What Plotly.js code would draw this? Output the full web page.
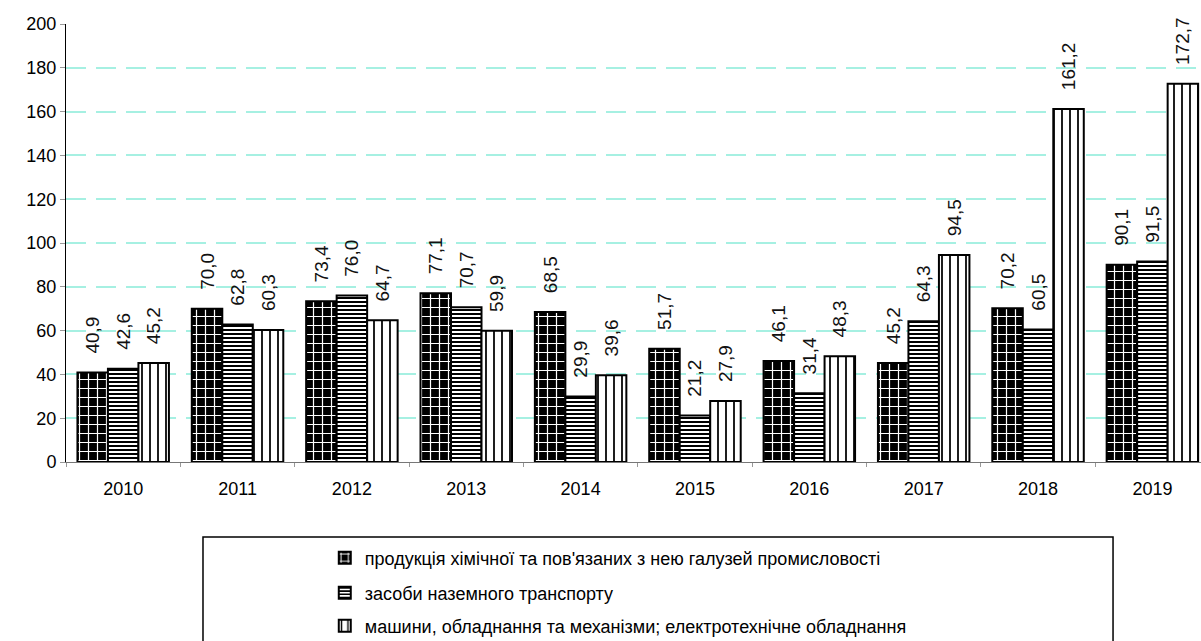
<!DOCTYPE html>
<html>
<head>
<meta charset="utf-8">
<script src="https://cdn.plot.ly/plotly-3.0.1.min.js"></script>
<style>html,body{margin:0;padding:0;overflow:hidden;background:#fff;}</style>
</head>
<body>
<div id="chart" style="width:1201px;height:641px;"></div>
<script>
const years = ["2010","2011","2012","2013","2014","2015","2016","2017","2018","2019"];
const chemical = [40.9, 70.0, 73.4, 77.1, 68.5, 51.7, 46.1, 45.2, 70.2, 90.1];
const transport = [42.6, 62.8, 76.0, 70.7, 29.9, 21.2, 31.4, 64.3, 60.5, 91.5];
const machines = [45.2, 60.3, 64.7, 59.9, 39.6, 27.9, 48.3, 94.5, 161.2, 172.7];
const seriesNames = [
  "продукція хімічної та пов'язаних з нею галузей промисловості",
  "засоби наземного транспорту",
  "машини, обладнання та механізми; електротехнічне обладнання"
];
const fmt = v => '\u00a0\u00a0\u00a0' + v.toFixed(1).replace('.', ',');
const FONT = "Liberation Sans, Arial, sans-serif";

function mk(vals, name, pattern, legendId) {
  return {
    type: 'bar', x: years, y: vals, name: name,
    text: vals.map(fmt), textposition: 'outside', textangle: -90,
    constraintext: 'none',
    textfont: {family: FONT, size: 19, color: '#111'},
    cliponaxis: false,
    legend: legendId,
    marker: {color: pattern.bg, line: {color: '#000', width: 2}, pattern: pattern.p},
    hoverinfo: 'y'
  };
}
const traces = [
  mk(chemical, seriesNames[0], {bg: '#000', p: {shape: '+', bgcolor: '#000', fgcolor: '#fff', size: 9, solidity: 0.25}}, 'legend'),
  mk(transport, seriesNames[1], {bg: '#fff', p: {shape: '-', bgcolor: '#fff', fgcolor: '#000', size: 4, solidity: 0.5}}, 'legend2'),
  mk(machines, seriesNames[2], {bg: '#fff', p: {shape: '|', bgcolor: '#fff', fgcolor: '#000', size: 8, solidity: 0.22}}, 'legend3')
];

const legBase = {x: 0.228, xanchor: 'left', yanchor: 'middle', xref: 'paper', yref: 'container',
  bgcolor: 'rgba(0,0,0,0)', borderwidth: 0,
  font: {family: FONT, size: 18, color: '#000'}, itemwidth: 30};

const layout = {
  width: 1201, height: 641,
  margin: {l: 66, r: 0, t: 24, b: 179, autoexpand: false},
  paper_bgcolor: '#fff', plot_bgcolor: '#fff',
  barmode: 'group', bargap: 0.2, bargroupgap: 0,
  font: {family: FONT, size: 18, color: '#000'},
  xaxis: {
    type: 'category', range: [-0.5, 9.425],
    showline: true, linecolor: '#777', linewidth: 1,
    ticks: 'outside', tickson: 'boundaries', ticklen: 4, tickcolor: '#999',
    ticklabelstandoff: 10,
    tickfont: {family: FONT, size: 18, color: '#000'}, showgrid: false, zeroline: false
  },
  yaxis: {
    range: [0, 200], dtick: 20, tick0: 0,
    showline: true, linecolor: '#000', linewidth: 1,
    ticks: 'outside', ticklen: 5, tickcolor: '#999',
    tickfont: {family: FONT, size: 18, color: '#000'},
    showgrid: true, gridcolor: '#a6f0e2', griddash: '20px,10px', gridwidth: 2, zeroline: false
  },
  showlegend: true,
  legend: Object.assign({}, legBase, {y: 0.1295}),
  legend2: Object.assign({}, legBase, {y: 0.0749}),
  legend3: Object.assign({}, legBase, {y: 0.0234}),
  shapes: [{type: 'rect', xref: 'paper', yref: 'paper', x0: 0.1207, x1: 0.9225, y0: -0.171, y1: -0.46,
    line: {color: '#000', width: 1.5}, fillcolor: 'rgba(0,0,0,0)'}]
};
Plotly.newPlot('chart', traces, layout, {displayModeBar: false, staticPlot: true});
</script>
</body>
</html>
